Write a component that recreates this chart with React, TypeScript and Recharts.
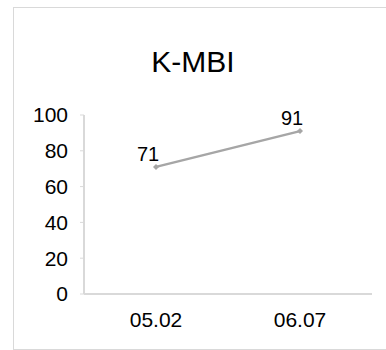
import { LineChart, Line, XAxis, YAxis, LabelList } from "recharts";

const categories = ["05.02", "06.07"];
const scores = [71, 91];
const yTicks = [0, 20, 40, 60, 80, 100];

const data = categories.map((date, i) => ({ date, value: scores[i] }));

const AXIS = "#d9d9d9";
const LINE = "#a6a6a6";
const FONT = "'Liberation Sans', Arial, sans-serif";

function Diamond({ cx, cy }: { cx?: number; cy?: number }) {
  if (cx == null || cy == null) return null;
  const r = 3;
  return (
    <path
      d={`M${cx},${cy - r}L${cx + r},${cy}L${cx},${cy + r}L${cx - r},${cy}Z`}
      fill={LINE}
    />
  );
}

export default function App() {
  return (
    <div style={{ position: "absolute", left: 0, top: 0, width: 386, height: 350, fontFamily: FONT }}>
      <div
        style={{
          position: "absolute",
          left: 13,
          top: 7,
          width: 372,
          height: 341,
          border: `1px solid ${AXIS}`,
        }}
      />
      <div
        style={{
          position: "absolute",
          left: 0,
          width: 386,
          top: 45,
          textAlign: "center",
          fontSize: 30,
          color: "#000",
        }}
      >
        K-MBI
      </div>
      <div style={{ position: "absolute", left: 0, top: 0 }}>
        <LineChart width={386} height={350} data={data} margin={{ top: 115, right: 14, bottom: 0, left: 0 }}>
          <XAxis
            dataKey="date"
            padding={{ left: 72, right: 72 }}
            axisLine={{ stroke: AXIS, strokeWidth: 2 }}
            tickLine={false}
            tickMargin={12}
            height={56}
            tick={{ fill: "#000", fontSize: 21, fontFamily: FONT }}
          />
          <YAxis
            domain={[0, 100]}
            ticks={yTicks}
            width={84}
            axisLine={{ stroke: AXIS, strokeWidth: 2 }}
            tickLine={{ stroke: AXIS }}
            tickSize={4}
            tickMargin={12}
            tick={{ fill: "#000", fontSize: 21, fontFamily: FONT }}
          />
          <Line
            dataKey="value"
            stroke={LINE}
            strokeWidth={2.5}
            dot={<Diamond />}
            activeDot={false}
            isAnimationActive={false}
          >
            <LabelList
              dataKey="value"
              position="top"
              offset={6}
              dx={-8}
              fill="#000"
              fontSize={20}
              fontFamily={FONT}
            />
          </Line>
        </LineChart>
      </div>
    </div>
  );
}
